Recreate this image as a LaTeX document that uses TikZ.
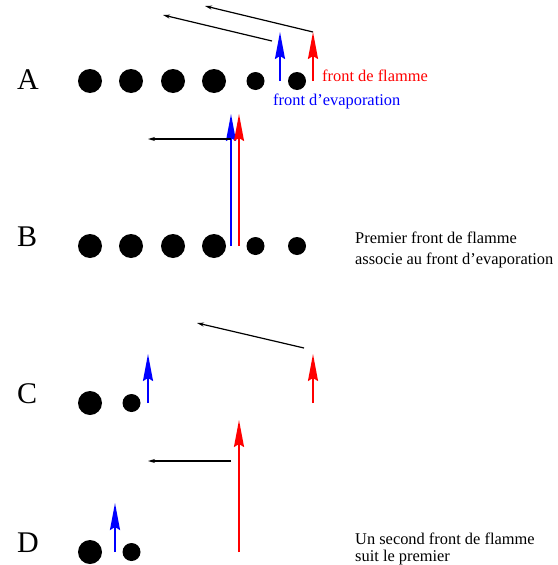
\documentclass[tikz,border=0pt]{standalone}
\usepackage{fontspec}
\setmainfont{Liberation Serif}
\usepackage{tikz}
\usetikzlibrary{arrows.meta, positioning}
\tikzset{
	bignode/.style={
			circle,
			fill=black,
			draw=none,
			minimum size=24pt,
			inner sep=0pt
		},
	smallnode/.style={
			bignode,
			minimum size=18pt
		},
	rowlabel/.style={
			anchor=base west,
			inner sep=0pt,
			font=\fontsize{30}{32}\selectfont
		},
	textlabel/.style={
			anchor=base west,
			inner sep=0pt,
			font=\fontsize{16.4}{18}\selectfont
		},
	flamme/.style={
			draw=red,
			line width=2pt,
			-{Stealth[length=27pt, width=10pt, inset=3pt]}
		},
	evap/.style={
			flamme,
			draw=blue
		},
	vitesse/.style={
			draw=black,
			line width=1.2pt,
			-{Stealth[length=7pt, width=4pt]}
		}
}
\begin{document}
\begin{tikzpicture}[x=1pt, y=-1pt]
\useasboundingbox (0,0) rectangle (557,565);

% row A
\node[rowlabel] (la) at (17,89) {A};
\node[bignode] (a1) at (90,81) {};
\node[bignode] (a2) at (131,81) {};
\node[bignode] (a3) at (173,81) {};
\node[bignode] (a4) at (214,81) {};
\node[smallnode] (a5) at (255.5,81) {};
\node[smallnode] (a6) at (297,81) {};
\coordinate (ea0) at (280,81);
\coordinate (ea1) at (280,32);
\coordinate (fa0) at (313,81);
\coordinate (fa1) at (313,32);
\coordinate (va1) at (272,41);
\coordinate (va2) at (163,15);
\coordinate (va3) at (205,6);
\draw[evap] (ea0) -- (ea1);
\draw[flamme] (fa0) -- (fa1);
\draw[vitesse] (va1) -- (va2);
\draw[vitesse] (fa1) -- (va3);
\node[textlabel, text=red] (tfa) at (322,81) {front de flamme};
\node[textlabel, text=blue] (tea) at (273,105) {front d’evaporation};

% row B
\node[rowlabel] (lb) at (17,246) {B};
\node[bignode] (b1) at (90,246) {};
\node[bignode] (b2) at (131,246) {};
\node[bignode] (b3) at (173,246) {};
\node[bignode] (b4) at (214,246) {};
\node[smallnode] (b5) at (255.5,246) {};
\node[smallnode] (b6) at (297,246) {};
\coordinate (eb0) at (231,246);
\coordinate (eb1) at (231,114);
\coordinate (fb0) at (239,246);
\coordinate (fb1) at (239,114);
\coordinate (vb1) at (231,139);
\coordinate (vb2) at (148,139);
\draw[evap] (eb0) -- (eb1);
\draw[flamme] (fb0) -- (fb1);
\draw[vitesse] (vb1) -- (vb2);
\node[textlabel] (tb1) at (355,243) {Premier front de flamme};
\node[textlabel] (tb2) at (355,264) {associe au front d’evaporation};

% row C
\node[rowlabel] (lc) at (17,403) {C};
\node[bignode] (c1) at (90,403) {};
\node[smallnode] (c2) at (131.5,403) {};
\coordinate (ec0) at (148,403);
\coordinate (ec1) at (148,354);
\coordinate (fc0) at (313,403);
\coordinate (fc1) at (313,354);
\coordinate (vc1) at (304,348);
\coordinate (vc2) at (197,323);
\draw[evap] (ec0) -- (ec1);
\draw[flamme] (fc0) -- (fc1);
\draw[vitesse] (vc1) -- (vc2);

% row D
\node[rowlabel] (ld) at (17,552) {D};
\node[bignode] (d1) at (90,552) {};
\node[smallnode] (d2) at (131.5,552) {};
\coordinate (ed0) at (115,552);
\coordinate (ed1) at (115,503);
\coordinate (fd0) at (239,552);
\coordinate (fd1) at (239,420);
\coordinate (vd1) at (231,461);
\coordinate (vd2) at (148,461);
\draw[evap] (ed0) -- (ed1);
\draw[flamme] (fd0) -- (fd1);
\draw[vitesse] (vd1) -- (vd2);
\node[textlabel] (td1) at (355,544) {Un second front de flamme};
\node[textlabel] (td2) at (355,561) {suit le premier};

\end{tikzpicture}
\end{document}
